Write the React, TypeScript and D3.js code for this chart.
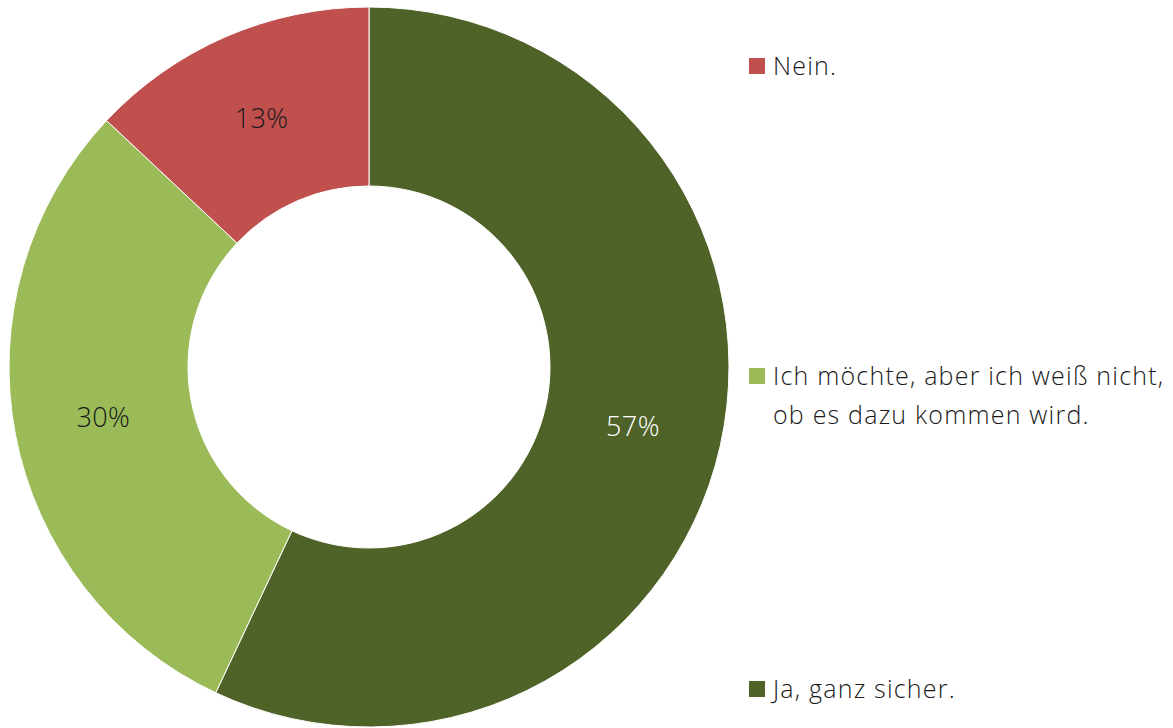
import React from "react";
import * as d3 from "d3";

const categories = ["Ja, ganz sicher.", "Ich möchte, aber ich weiß nicht, ob es dazu kommen wird.", "Nein."];
const values = [57, 30, 13];
const colors = ["#4F6228", "#9BBB59", "#C0504D"];
const labelColors = ["#FFFFFF", "#1a1a1a", "#1a1a1a"];
const legendOrder = [2, 1, 0];
const legendLines = [["Nein."], ["Ich möchte, aber ich weiß nicht,", "ob es dazu kommen wird."], ["Ja, ganz sicher."]];
const legendY = [66, 376, 689];

export default function App() {
  const W = 1173, H = 728;
  const cx = 369, cy = 367, outerR = 360, innerR = 181;
  const pie = d3.pie<number>().sort(null).value((d) => d);
  const arcs = pie(values);
  const arc = d3.arc<d3.PieArcDatum<number>>().innerRadius(innerR).outerRadius(outerR);
  const font = "'Open Sans', 'Noto Sans', sans-serif";
  return (
    <svg width={W} height={H} style={{ position: "absolute", left: 0, top: 0, background: "#fff" }} fontFamily={font}>
      <g transform={`translate(${cx},${cy})`}>
        {arcs.map((a, i) => (
          <path key={i} d={arc(a) || ""} fill={colors[i]} stroke="#fff" strokeWidth={1} />
        ))}
        {arcs.map((a, i) => {
          const [x, y] = arc.centroid(a);
          return (
            <text key={"l" + i} x={x} y={y} dy="0.36em" textAnchor="middle" fontSize={27} fontWeight={300} letterSpacing={0.4} fill={labelColors[i]}>
              {values[i]}%
            </text>
          );
        })}
      </g>
      {legendOrder.map((ci, k) => (
        <g key={"lg" + k}>
          <rect x={749} y={legendY[k] - 8} width={16} height={16} fill={colors[ci]} />
          {legendLines[k].map((line, j) => (
            <text key={j} x={773} y={legendY[k] + j * 39} dy="0.36em" fontSize={25} fontWeight={300} letterSpacing={1.2} fill="#1a1a1a">
              {line}
            </text>
          ))}
        </g>
      ))}
    </svg>
  );
}
